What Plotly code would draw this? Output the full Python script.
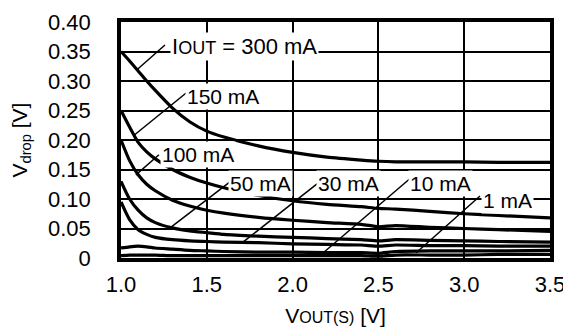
import plotly.graph_objects as go

# ---- data ----
vout = [1.0, 1.05, 1.1, 1.15, 1.2, 1.3, 1.4, 1.5, 1.6, 1.8, 2.0, 2.2, 2.4, 2.5, 2.6, 2.8, 3.0, 3.2, 3.5]
vdrop_300mA = [0.350, 0.334, 0.317, 0.300, 0.284, 0.254, 0.231, 0.215, 0.205, 0.190, 0.179, 0.171, 0.166, 0.164, 0.163, 0.163, 0.163, 0.162, 0.162]
vdrop_150mA = [0.250, 0.222, 0.196, 0.180, 0.168, 0.150, 0.137, 0.127, 0.119, 0.106, 0.097, 0.091, 0.087, 0.084, 0.083, 0.079, 0.075, 0.072, 0.068]
vdrop_100mA = [0.200, 0.165, 0.141, 0.125, 0.114, 0.098, 0.088, 0.081, 0.076, 0.069, 0.064, 0.060, 0.057, 0.053, 0.055, 0.052, 0.050, 0.048, 0.045]
vdrop_50mA = [0.130, 0.100, 0.081, 0.068, 0.060, 0.051, 0.046, 0.043, 0.040, 0.037, 0.035, 0.033, 0.031, 0.029, 0.031, 0.030, 0.029, 0.028, 0.027]
vdrop_30mA = [0.095, 0.065, 0.048, 0.040, 0.035, 0.031, 0.029, 0.028, 0.027, 0.026, 0.024, 0.023, 0.022, 0.020, 0.022, 0.021, 0.021, 0.020, 0.020]
vdrop_10mA = [0.017, 0.019, 0.020, 0.019, 0.017, 0.015, 0.013, 0.012, 0.011, 0.010, 0.010, 0.009, 0.009, 0.008, 0.011, 0.012, 0.012, 0.012, 0.013]
vdrop_1mA = [0.004, 0.005, 0.005, 0.005, 0.005, 0.004, 0.004, 0.004, 0.004, 0.004, 0.004, 0.004, 0.004, 0.003, 0.005, 0.005, 0.005, 0.006, 0.006]

series = [vdrop_300mA, vdrop_150mA, vdrop_100mA, vdrop_50mA, vdrop_30mA, vdrop_10mA, vdrop_1mA]

x_ticks = [1.0, 1.5, 2.0, 2.5, 3.0, 3.5]
x_tick_labels = ["1.0", "1.5", "2.0", "2.5", "3.0", "3.5"]
y_ticks = [0, 0.05, 0.10, 0.15, 0.20, 0.25, 0.30, 0.35, 0.40]
y_tick_labels = ["0", "0.05", "0.10", "0.15", "0.20", "0.25", "0.30", "0.35", "0.40"]

FONT = "Liberation Sans, Arial, sans-serif"

fig = go.Figure()
for s in series:
    fig.add_trace(go.Scatter(x=vout, y=s, mode="lines",
                             line=dict(color="black", width=3.2, shape="spline", smoothing=0.6),
                             showlegend=False, hoverinfo="skip"))

# leader lines (label -> curve)
leaders = [
    (1.256, 0.361, 1.093, 0.319),
    (1.385, 0.281, 1.076, 0.208),
    (1.221, 0.175, 1.087, 0.141),
    (1.635, 0.129, 1.286, 0.051),
    (2.148, 0.127, 1.711, 0.027),
    (2.690, 0.136, 2.177, 0.0085),
    (3.092, 0.105, 2.719, 0.0085),
]
for x0, y0, x1, y1 in leaders:
    fig.add_shape(type="line", xref="x", yref="y", x0=x0, y0=y0, x1=x1, y1=y1,
                  line=dict(color="black", width=1.5), layer="above")

labels = [
    ("I<span style='font-size:18px'>OUT</span> = 300 mA", 1.286, 0.359, 22),
    ("150 mA", 1.373, 0.273, 21),
    ("100 mA", 1.227, 0.175, 21),
    ("50 mA", 1.624, 0.127, 21),
    ("30 mA", 2.136, 0.127, 21),
    ("10 mA", 2.672, 0.127, 21),
    ("1 mA", 3.098, 0.098, 21),
]
for txt, x, y, fs in labels:
    fig.add_annotation(x=x, y=y, xref="x", yref="y", text=txt, showarrow=False,
                       xanchor="left", yanchor="middle", bgcolor="white", borderpad=1,
                       font=dict(family=FONT, size=fs, color="black"))

fig.update_xaxes(range=[1.0, 3.5], tickvals=x_ticks, ticktext=x_tick_labels,
                 showgrid=True, gridcolor="black", gridwidth=1.8,
                 showline=True, linecolor="black", linewidth=3.5, mirror=True,
                 ticks="outside", ticklen=4, tickcolor="rgba(0,0,0,0)",
                 zeroline=False, automargin=False,
                 tickfont=dict(family=FONT, size=22, color="black"),
                 title=dict(text="V<span style='font-size:16px'>OUT(S)</span> [V]",
                            font=dict(family=FONT, size=21, color="black"), standoff=13))
fig.update_yaxes(range=[0, 0.40], tickvals=y_ticks, ticktext=y_tick_labels,
                 showgrid=True, gridcolor="black", gridwidth=1.8,
                 showline=True, linecolor="black", linewidth=3.5, mirror=True,
                 ticks="outside", ticklen=22, tickcolor="rgba(0,0,0,0)",
                 zeroline=False, automargin=False,
                 tickfont=dict(family=FONT, size=22, color="black"),
                 title=dict(text="V<sub>drop</sub> [V]",
                            font=dict(family=FONT, size=21, color="black"), standoff=16))

# the page body adds an 8 px margin, so the figure is 8 px smaller and the
# margins are trimmed accordingly to keep the plot area where the reference has it
fig.update_layout(width=563, height=323, margin=dict(l=113, r=21, t=14, b=73),
                  plot_bgcolor="white", paper_bgcolor="white")

fig.write_html("out.html")
